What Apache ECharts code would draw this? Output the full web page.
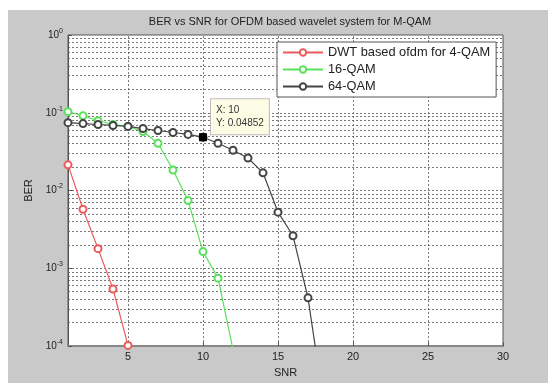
<!DOCTYPE html>
<html lang="en">

<head>
    <meta charset="utf-8" />
    <title>BER vs SNR</title>
    <script src="https://cdn.jsdelivr.net/npm/echarts@6/dist/echarts.min.js"></script>
    <style>
        html, body { margin: 0; padding: 0; background: #fff; }
        #main { width: 548px; height: 383px; }
    </style>
</head>

<body>
    <div id="main"></div>
    <script type="text/javascript">
        // SNR values (dB)
        var snr = [1, 2, 3, 4, 5, 6, 7, 8, 9, 10, 11, 12, 13, 14, 15, 16, 17, 18];

        // BER
        var ber4 = [0.0214, 0.00575, 0.00179, 0.000542, 0.000102];
        var ber16 = [0.103, 0.0916, 0.079, 0.0707, 0.0668, 0.0575, 0.0405, 0.0184, 0.00746, 0.00164, 0.000747, 0.00009];
        var ber64 = [0.0747, 0.0726, 0.0707, 0.0687, 0.0668, 0.0627, 0.0592, 0.0558, 0.0527, 0.04852,
            0.0405, 0.033, 0.0262, 0.0169, 0.00527, 0.00262, 0.000417, 0.000021];

        var seriesNames = ['DWT based ofdm for 4-QAM', '16-QAM', '64-QAM'];
        var xTicks = [5, 10, 15, 20, 25, 30];
        var yTicks = [1e-4, 1e-3, 1e-2, 1e-1, 1];
        var xRange = [1, 30];
        var tipPoint = [10, 0.04852];

        function pairs(ys) {
            var out = [];
            for (var i = 0; i < ys.length; i++) {
                out.push([snr[i], ys[i]]);
            }
            return out;
        }

        // grid lines as markLine segments (log minor grid 2..9 inside each decade)
        var gridLines = [];
        for (var k = 0; k < yTicks.length - 1; k++) {
            for (var m = 1; m <= 9; m++) {
                if (m === 1 && k === 0) continue;
                var v = Number((yTicks[k] * m).toPrecision(3));
                gridLines.push([{ coord: [xRange[0], v] }, { coord: [xRange[1], v] }]);
            }
        }
        for (var j = 0; j < xTicks.length - 1; j++) {
            gridLines.push([{ coord: [xTicks[j], yTicks[0]] }, { coord: [xTicks[j], yTicks[yTicks.length - 1]] }]);
        }

        var gridStyle = { color: '#555', type: [2, 2], width: 1, opacity: 0.8 };

        var chart = echarts.init(document.getElementById('main'));
        var option = {
            animation: false,
            textStyle: { fontFamily: 'Liberation Sans, Arial, sans-serif' },
            graphic: [{
                type: 'rect',
                left: 8, top: 10,
                shape: { width: 540, height: 373 },
                style: { fill: '#c9c9c9' },
                z: -10
            }],
            title: {
                text: 'BER vs SNR for OFDM based wavelet system for M-QAM',
                left: 285,
                textAlign: 'center',
                top: 11,
                textStyle: { fontSize: 11, fontWeight: 'normal', color: '#222' }
            },
            grid: {
                left: 68, right: 45, top: 35, bottom: 33,
                show: true,
                backgroundColor: '#fff',
                borderColor: '#555',
                borderWidth: 1
            },
            legend: {
                orient: 'vertical',
                left: 277, top: 42,
                backgroundColor: '#fff',
                borderColor: '#555',
                borderWidth: 1,
                padding: [4, 6, 4, 5],
                itemWidth: 40,
                itemHeight: 8,
                itemGap: 4,
                textStyle: { fontSize: 12.8, color: '#222' },
                data: seriesNames
            },
            xAxis: {
                type: 'value',
                min: xRange[0], max: xRange[1],
                name: 'SNR',
                nameLocation: 'middle',
                nameGap: 20,
                nameTextStyle: { fontSize: 11, color: '#222' },
                axisLine: { show: true, lineStyle: { color: '#888', width: 2 } },
                axisTick: { show: true, inside: true, length: 4, customValues: xTicks, lineStyle: { color: '#555' } },
                axisLabel: { customValues: xTicks, fontSize: 11, color: '#222', margin: 5 },
                splitLine: { show: false }
            },
            yAxis: {
                type: 'log',
                logBase: 10,
                min: yTicks[0], max: yTicks[yTicks.length - 1],
                name: 'BER',
                nameLocation: 'middle',
                nameGap: 32,
                nameRotate: 90,
                nameTextStyle: { fontSize: 11, color: '#222' },
                axisLine: { show: true, lineStyle: { color: '#555' } },
                axisTick: { show: true, inside: true, length: 4, customValues: yTicks, lineStyle: { color: '#555' } },
                axisLabel: {
                    customValues: yTicks,
                    margin: 5,
                    formatter: function (v) {
                        var e = Math.round(Math.log10(v));
                        return '{b|10}{s|' + e + '}';
                    },
                    rich: {
                        b: { fontSize: 10, color: '#222' },
                        s: { fontSize: 7, color: '#222', padding: [0, 0, 8, 0] }
                    }
                },
                splitLine: { show: false }
            },
            series: [
                {
                    name: seriesNames[0],
                    type: 'line',
                    data: pairs(ber4),
                    symbol: 'emptyCircle',
                    symbolSize: 7,
                    color: '#ec5a5a',
                    lineStyle: { width: 1.2, color: '#ec5a5a' },
                    itemStyle: { color: '#ec5a5a', borderWidth: 1 },
                    z: 3,
                    markLine: {
                        silent: true,
                        symbol: 'none',
                        label: { show: false },
                        lineStyle: gridStyle,
                        emphasis: { disabled: true },
                        animation: false,
                        z: 1,
                        data: gridLines
                    }
                },
                {
                    name: seriesNames[1],
                    type: 'line',
                    data: pairs(ber16),
                    symbol: 'emptyCircle',
                    symbolSize: 7,
                    color: '#5ae05a',
                    lineStyle: { width: 1.2, color: '#5ae05a' },
                    itemStyle: { color: '#5ae05a', borderWidth: 1 },
                    z: 3
                },
                {
                    name: seriesNames[2],
                    type: 'line',
                    data: pairs(ber64),
                    symbol: 'emptyCircle',
                    symbolSize: 7,
                    color: '#444',
                    lineStyle: { width: 1.2, color: '#444' },
                    itemStyle: { color: '#444', borderWidth: 1 },
                    z: 4,
                    markPoint: {
                        symbol: 'rect',
                        symbolSize: 8,
                        itemStyle: { color: '#000' },
                        data: [{
                            coord: tipPoint,
                            label: {
                                show: true,
                                position: [12, -34],
                                formatter: 'X: ' + tipPoint[0] + '\nY: ' + tipPoint[1],
                                backgroundColor: '#fdfde6',
                                borderColor: '#bbb',
                                borderWidth: 1,
                                padding: [5, 5, 4, 5],
                                lineHeight: 13,
                                fontSize: 10,
                                color: '#333'
                            }
                        }]
                    }
                }
            ]
        };
        chart.setOption(option);
    </script>
</body>

</html>
